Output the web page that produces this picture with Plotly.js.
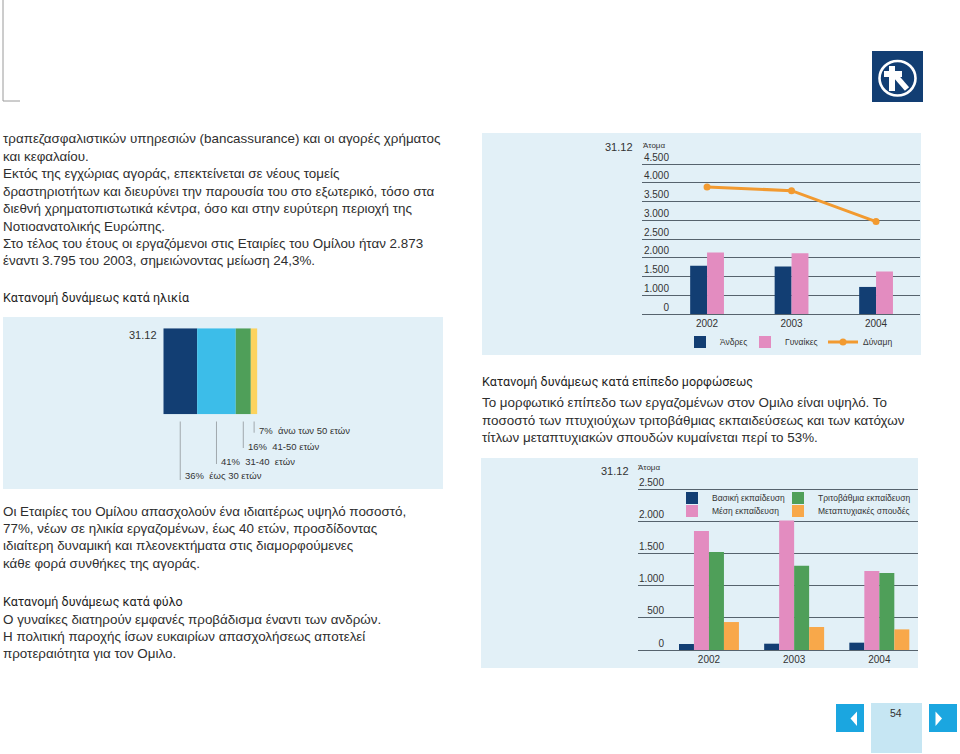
<!DOCTYPE html>
<html>
<head>
<meta charset="utf-8">
<script src="https://cdn.plot.ly/plotly-3.0.1.min.js"></script>
<style>html,body{margin:0;padding:0;background:#fff;}#chart{width:960px;height:754px;}</style>
</head>
<body>
<div id="chart"></div>
<script>
// ---------- DATA ----------
const years = ['2002', '2003', '2004'];

// Gender chart (broken axis: "0" label sits where 500 would be)
const genderNames = ['Άνδρες', 'Γυναίκες', 'Δύναμη'];
const menValues = [1786, 1768, 1223];
const womenValues = [2143, 2125, 1634];
const totalValues = [3893, 3795, 2970];
const genderTickVals = [500, 1000, 1500, 2000, 2500, 3000, 3500, 4000, 4500];
const genderTickText = ['0', '1.000', '1.500', '2.000', '2.500', '3.000', '3.500', '4.000', '4.500'];

// Age chart
const ageValues = [36, 41, 16, 7];
const ageLabels = ['έως 30 ετών', '31-40  ετών', '41-50 ετών', 'άνω των 50 ετών'];

// Education chart
const eduNames = ['Βασική εκπαίδευση', 'Μέση εκπαίδευση', 'Τριτοβάθμια εκπαίδευση', 'Μεταπτυχιακές σπουδές'];
const eduBasic = [93, 98, 114];
const eduMiddle = [1850, 2015, 1228];
const eduTertiary = [1523, 1311, 1197];
const eduPostgrad = [435, 358, 321];
const eduTickVals = [0, 500, 1000, 1500, 2000, 2500];
const eduTickText = ['0', '500', '1.000', '1.500', '2.000', '2.500'];

const pageNumber = '54';
const dateLabel = '31.12';
const unitLabel = 'Άτομα';

// ---------- TEXT ----------
const textBlockA = [
  'τραπεζασφαλιστικών υπηρεσιών (bancassurance) και οι αγορές χρήματος',
  'και κεφαλαίου.',
  'Εκτός της εγχώριας αγοράς, επεκτείνεται σε νέους τομείς',
  'δραστηριοτήτων και διευρύνει την παρουσία του στο εξωτερικό, τόσο στα',
  'διεθνή χρηματοπιστωτικά κέντρα, όσο και στην ευρύτερη περιοχή της',
  'Νοτιοανατολικής Ευρώπης.',
  'Στο τέλος του έτους οι εργαζόμενοι στις Εταιρίες του Ομίλου ήταν 2.873',
  'έναντι 3.795 του 2003, σημειώνοντας μείωση 24,3%.'
];
const headingAge = 'Κατανομή δυνάμεως κατά ηλικία';
const textBlockB = [
  'Οι Εταιρίες του Ομίλου απασχολούν ένα ιδιαιτέρως υψηλό ποσοστό,',
  '77%, νέων σε ηλικία εργαζομένων, έως 40 ετών, προσδίδοντας',
  'ιδιαίτερη δυναμική και πλεονεκτήματα στις διαμορφούμενες',
  'κάθε φορά συνθήκες της αγοράς.'
];
const headingGender = 'Κατανομή δυνάμεως κατά φύλο';
const textBlockC = [
  'Ο γυναίκες διατηρούν εμφανές προβάδισμα έναντι των ανδρών.',
  'Η πολιτική παροχής ίσων ευκαιρίων απασχολήσεως αποτελεί',
  'προτεραιότητα για τον Ομιλο.'
];
const headingEdu = 'Κατανομή δυνάμεως κατά επίπεδο μορφώσεως';
const textBlockD = [
  'Το μορφωτικό επίπεδο των εργαζομένων στον Ομιλο είναι υψηλό. Το',
  'ποσοστό των πτυχιούχων τριτοβάθμιας εκπαιδεύσεως και των κατόχων',
  'τίτλων μεταπτυχιακών σπουδών κυμαίνεται περί το 53%.'
];

// ---------- STYLE ----------
const W = 960, H = 754;
const px = x => x / W;
const py = y => 1 - y / H;
const FONT = 'Liberation Sans, Arial, Helvetica, sans-serif';
const HEAD = 'Roboto, Liberation Sans, sans-serif';
const BODY_SIZE = 13.4;
const TXT = '#2e2e2e';
const GRID = '#56636d';
const PANEL = '#e2f0f7';
const NAVY = '#123e73';
const PINK = '#e38cc0';
const GREEN = '#4f9f59';
const ORANGE = '#f8a84a';
const LINEOR = '#f29a30';
const LBLUE = '#3cbde9';
const YELLOW = '#fcd35e';
const NAVBLUE = '#1ba6e0';

// ---------- TRACES ----------
const traces = [];
traces.push({type: 'bar', name: genderNames[0], x: years, y: menValues, xaxis: 'x', yaxis: 'y',
  width: 0.2, offset: -0.2, marker: {color: NAVY}, legend: 'legend', hoverinfo: 'skip'});
traces.push({type: 'bar', name: genderNames[1], x: years, y: womenValues, xaxis: 'x', yaxis: 'y',
  width: 0.2, offset: 0, marker: {color: PINK}, legend: 'legend4', hoverinfo: 'skip'});
traces.push({type: 'scatter', mode: 'lines+markers', name: genderNames[2], x: years, y: totalValues,
  xaxis: 'x', yaxis: 'y', line: {color: LINEOR, width: 3}, marker: {color: LINEOR, size: 7},
  legend: 'legend5', hoverinfo: 'skip'});

const ageColors = [NAVY, LBLUE, GREEN, YELLOW];
const ageBases = [];
let cum = 0;
ageValues.forEach(v => { ageBases.push(cum); cum += v; });
ageValues.forEach((v, i) => {
  traces.push({type: 'bar', orientation: 'h', x: [v], base: [ageBases[i]], y: [dateLabel],
    xaxis: 'x3', yaxis: 'y3', width: 1, marker: {color: ageColors[i]}, showlegend: false,
    name: ageLabels[i], hoverinfo: 'skip'});
});

const eduSeries = [eduBasic, eduMiddle, eduTertiary, eduPostgrad];
const eduColors = [NAVY, PINK, GREEN, ORANGE];
const eduOffsets = [-0.352, -0.176, 0, 0.176];
const eduLegends = ['legend2', 'legend3', 'legend6', 'legend7'];
eduSeries.forEach((s, i) => {
  traces.push({type: 'bar', name: eduNames[i], x: years, y: s, xaxis: 'x2', yaxis: 'y2',
    width: 0.176, offset: eduOffsets[i], marker: {color: eduColors[i]}, legend: eduLegends[i],
    hoverinfo: 'skip'});
});

// ---------- SHAPES ----------
const shapes = [];
function rect(x0, y0, x1, y1, color, layer) {
  shapes.push({type: 'rect', xref: 'paper', yref: 'paper', x0: px(x0), x1: px(x1), y0: py(y1), y1: py(y0),
    fillcolor: color, line: {width: 0}, layer: layer || 'below'});
}
function line(x0, y0, x1, y1, color, width, layer) {
  shapes.push({type: 'line', xref: 'paper', yref: 'paper', x0: px(x0), x1: px(x1), y0: py(y0), y1: py(y1),
    line: {color: color, width: width}, layer: layer || 'below'});
}
// panels
rect(482, 133, 921, 355, PANEL);
rect(3, 317, 443, 489, PANEL);
rect(481, 458, 918, 668, PANEL);
// top-left corner marks
line(3, 0, 3, 101, '#9a9a9a', 1);
line(3, 101, 20, 101, '#9a9a9a', 1);
// logo
rect(872, 51, 923, 102, NAVY, 'above');
shapes.push({type: 'circle', xref: 'paper', yref: 'paper', x0: px(879.5), x1: px(915.5), y0: py(95.5), y1: py(61),
  line: {color: '#ffffff', width: 2.6}, layer: 'above'});
rect(889, 66, 895, 91, '#ffffff', 'above');
rect(884, 71, 902, 77, '#ffffff', 'above');
line(894, 74, 907, 89, '#ffffff', 5.5, 'above');
// page navigation
rect(836, 704, 864, 732, NAVBLUE, 'above');
rect(871, 703, 922, 753, '#c6e6f3', 'above');
rect(929, 704, 957, 732, NAVBLUE, 'above');
shapes.push({type: 'path', xref: 'paper', yref: 'paper', layer: 'above', fillcolor: '#ffffff', line: {width: 0},
  path: `M ${px(850.5)} ${py(718.5)} L ${px(857)} ${py(711.5)} L ${px(857)} ${py(726)} Z`});
shapes.push({type: 'path', xref: 'paper', yref: 'paper', layer: 'above', fillcolor: '#ffffff', line: {width: 0},
  path: `M ${px(942)} ${py(718.5)} L ${px(935.5)} ${py(711.5)} L ${px(935.5)} ${py(726)} Z`});

// age leader lines (at segment centres)
const leaderEnds = [480, 464, 448, 432.7];
const labelYs = [475.7, 461.7, 446, 430];
ageValues.forEach((v, i) => {
  const c = ageBases[i] + v / 2;
  shapes.push({type: 'line', xref: 'x3', yref: 'paper', x0: c, x1: c, y0: py(421.5), y1: py(leaderEnds[i]),
    line: {color: '#a0a8ad', width: 1}, layer: 'above'});
});

// ---------- ANNOTATIONS ----------
const annotations = [];
function txt(x, y, text, size, family, color, anchor) {
  annotations.push({xref: 'paper', yref: 'paper', x: px(x), y: py(y), text: text, showarrow: false,
    xanchor: anchor || 'left', yanchor: 'middle', font: {family: family || FONT, size: size || BODY_SIZE, color: color || TXT}});
}
textBlockA.forEach((t, i) => txt(1, 139 + i * 17.4, t));
txt(1, 298, headingAge, 12.5, HEAD, '#1e1e1e');
textBlockB.forEach((t, i) => txt(1, 511 + i * 17.4, t));
txt(1, 601.5, headingGender, 12.5, HEAD, '#1e1e1e');
textBlockC.forEach((t, i) => txt(1, 619 + i * 17.4, t));
txt(480, 381.5, headingEdu, 12.5, HEAD, '#1e1e1e');
textBlockD.forEach((t, i) => txt(480, 403 + i * 17.4, t));

// chart labels
txt(127, 335, dateLabel, 11, FONT, '#333');
txt(603, 147, dateLabel, 11, FONT, '#333');
txt(641, 145, unitLabel, 8, FONT, '#333');
txt(599, 471, dateLabel, 11, FONT, '#333');
txt(636, 467, unitLabel, 8, FONT, '#333');
txt(896, 713, pageNumber, 10.5, FONT, '#333', 'center');

// age labels
ageValues.forEach((v, i) => {
  annotations.push({xref: 'x3', yref: 'paper', x: ageBases[i] + v / 2, xshift: 3, y: py(labelYs[i]),
    text: v + '%  ' + ageLabels[i], showarrow: false, xanchor: 'left', yanchor: 'middle',
    font: {family: FONT, size: 9.5, color: '#333'}});
});

// ---------- LAYOUT ----------
const tickFont = {family: FONT, size: 10, color: '#333'};
function leg(x, y) {
  return {orientation: 'h', xanchor: 'left', yanchor: 'middle', bgcolor: 'rgba(0,0,0,0)',
    font: {family: FONT, size: 8.5, color: '#333'}, x: px(x), y: py(y)};
}

const layout = {
  width: W, height: H,
  margin: {l: 0, r: 0, t: 0, b: 0},
  paper_bgcolor: '#ffffff', plot_bgcolor: 'rgba(0,0,0,0)',
  barmode: 'overlay',
  showlegend: true,
  hovermode: false,
  xaxis: {domain: [px(642), px(920)], anchor: 'y', type: 'category', range: [-0.77, 2.52],
    showline: true, linecolor: GRID, linewidth: 1, ticks: '', showgrid: false, zeroline: false,
    tickfont: tickFont, fixedrange: true},
  yaxis: {domain: [py(314), py(162.4)], anchor: 'free', position: px(669), range: [500, 4550],
    tickmode: 'array', tickvals: genderTickVals, ticktext: genderTickText, ticklabelposition: 'outside top',
    showgrid: true, gridcolor: GRID, gridwidth: 1, zeroline: false, ticks: '', showline: false,
    tickfont: tickFont, fixedrange: true},
  xaxis2: {domain: [px(638), px(918)], anchor: 'y2', type: 'category', range: [-0.833, 2.454],
    showline: true, linecolor: GRID, linewidth: 1, ticks: '', showgrid: false, zeroline: false,
    tickfont: tickFont, fixedrange: true},
  yaxis2: {domain: [py(650), py(486.1)], anchor: 'free', position: px(664), range: [0, 2550],
    tickmode: 'array', tickvals: eduTickVals, ticktext: eduTickText, ticklabelposition: 'outside top',
    showgrid: true, gridcolor: GRID, gridwidth: 1, zeroline: false, ticks: '', showline: false,
    tickfont: tickFont, fixedrange: true},
  xaxis3: {domain: [px(163.3), px(257.4)], anchor: 'y3', range: [0, 100], visible: false, fixedrange: true},
  yaxis3: {domain: [py(414.3), py(328.3)], anchor: 'x3', type: 'category', range: [-0.5, 0.5], visible: false, fixedrange: true},
  legend: leg(680, 342),
  legend4: leg(745, 342),
  legend5: leg(823, 342),
  legend2: leg(672, 498),
  legend6: leg(778, 498),
  legend3: leg(672, 511),
  legend7: leg(778, 511),
  shapes: shapes,
  annotations: annotations
};

Plotly.newPlot('chart', traces, layout, {displayModeBar: false, staticPlot: true});
</script>
</body>
</html>
